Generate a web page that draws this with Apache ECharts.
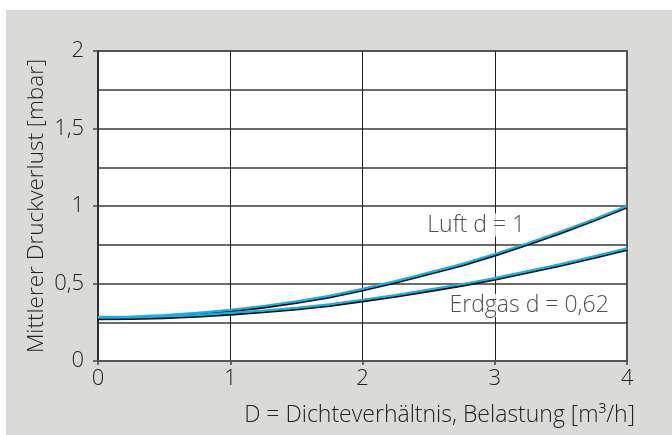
<!DOCTYPE html>
<html>
<head>
<meta charset="utf-8">
<script src="https://cdn.jsdelivr.net/npm/echarts@6/dist/echarts.min.js"></script>
<style>
html,body{margin:0;padding:0;background:#fff;width:672px;height:435px;overflow:hidden;}
#c{position:absolute;left:6px;top:10px;width:666px;height:425px;}
</style>
</head>
<body>
<div id="c"></div>
<script>
var xValues = [0, 0.25, 0.5, 0.75, 1, 1.25, 1.5, 1.75, 2, 2.25, 2.5, 2.75, 3, 3.25, 3.5, 3.75, 4];
var luft   = [0.285, 0.287, 0.296, 0.310, 0.330, 0.355, 0.385, 0.420, 0.465, 0.515, 0.570, 0.625, 0.690, 0.760, 0.835, 0.915, 1.000];
var erdgas = [0.280, 0.282, 0.287, 0.296, 0.310, 0.325, 0.343, 0.365, 0.395, 0.425, 0.460, 0.495, 0.535, 0.580, 0.625, 0.675, 0.727];
var seriesNames = ['Luft d = 1', 'Erdgas d = 0,62'];
var labelPos = [[2.86, 0.877], [3.26, 0.358]];
var xTitle = 'D = Dichteverhältnis, Belastung [m³/h]';
var yTitle = 'Mittlerer Druckverlust [mbar]';

var FONT = '"Open Sans"';
function pairs(xs, ys){ return xs.map(function(x,i){ return [x, ys[i]]; }); }
function lineSeries(name, ys){
  return {
    name: name, type: 'line', data: pairs(xValues, ys), showSymbol: false, smooth: false,
    lineStyle: {color: '#1caee0', width: 2.2, shadowColor: '#111', shadowOffsetY: 1.6, shadowBlur: 0},
    z: 5, silent: true
  };
}
var chart = echarts.init(document.getElementById('c'), null, {renderer: 'canvas'});
chart.setOption({
  backgroundColor: '#dadad8',
  animation: false,
  grid: {left: 92, right: 45, top: 41, bottom: 74, show: true, backgroundColor: '#fff', borderColor: '#555', borderWidth: 2},
  xAxis: {
    type: 'value', min: 0, max: 4, interval: 1,
    name: xTitle, nameLocation: 'end', nameGap: 8, nameMoveOverlap: false,
    nameTextStyle: {fontFamily: FONT, fontWeight: 300, fontSize: 23, color: '#222', align: 'right', verticalAlign: 'top', padding: [43, 0, 0, 0]},
    axisLine: {show: true, lineStyle: {color: '#555', width: 2}},
    axisTick: {show: true, length: 4, lineStyle: {color: '#444', width: 1.5}},
    axisLabel: {fontFamily: FONT, fontWeight: 300, fontSize: 22, color: '#222', margin: 7},
    splitLine: {show: true, showMinLine: false, showMaxLine: false, lineStyle: {color: '#222', width: 1}}
  },
  yAxis: {
    type: 'value', min: 0, max: 2, interval: 0.5,
    name: yTitle, nameLocation: 'middle', nameGap: 50, nameMoveOverlap: false,
    nameTextStyle: {fontFamily: FONT, fontWeight: 300, fontSize: 22.5, color: '#222'},
    axisLine: {show: true, lineStyle: {color: '#222', width: 1.5}},
    axisTick: {show: true, length: 5, lineStyle: {color: '#444', width: 1.5}},
    axisLabel: {fontFamily: FONT, fontWeight: 300, fontSize: 22, color: '#222', margin: 14,
      formatter: function(v){ return String(v).replace('.', ','); }},
    splitLine: {show: true, showMinLine: false, showMaxLine: false, lineStyle: {color: '#3a3a3a', width: 1.6}},
    minorTick: {show: false, splitNumber: 2},
    minorSplitLine: {show: true, lineStyle: {color: '#3a3a3a', width: 1.6}}
  },
  series: [
    lineSeries(seriesNames[0], luft),
    lineSeries(seriesNames[1], erdgas),
    {
      type: 'scatter', symbolSize: 0, z: 10, silent: true,
      data: labelPos.map(function(p, i){ return {value: p, name: seriesNames[i]}; }),
      label: {show: true, position: 'inside', formatter: '{b}', fontFamily: FONT, fontWeight: 300, fontSize: 23, color: '#222',
        backgroundColor: '#fff', padding: [0, 3]}
    }
  ]
});
</script>
</body>
</html>
